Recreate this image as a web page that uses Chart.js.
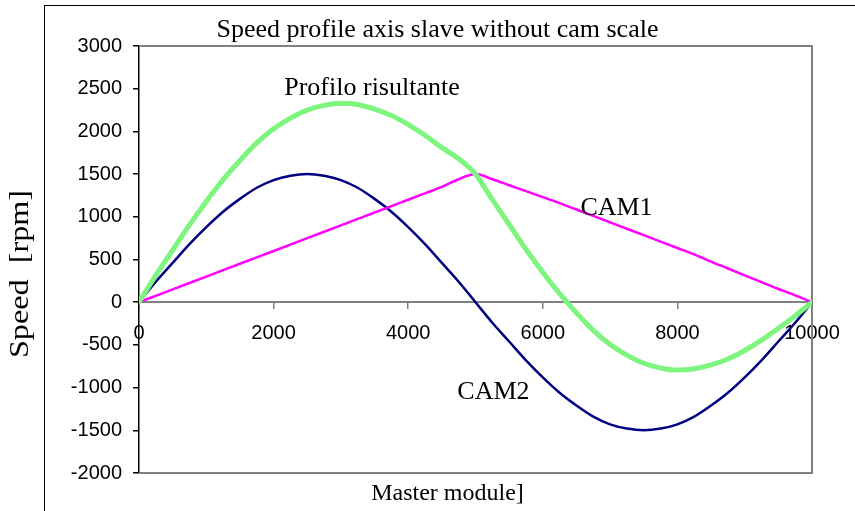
<!DOCTYPE html>
<html>
<head>
<meta charset="utf-8">
<script src="https://cdn.jsdelivr.net/npm/chart.js@4"></script>
<style>
  html, body { margin: 0; padding: 0; background: #fff; }
  #wrap { position: relative; width: 855px; height: 511px; overflow: hidden; }
  #frame { position: absolute; left: 44px; top: 5px; width: 900px; height: 600px;
           border-left: 1.5px solid #000; border-top: 1.5px solid #000; }
  canvas { position: absolute; left: 0; top: 0; }
</style>
</head>
<body>
<div id="wrap">
  <div id="frame"></div>
  <canvas id="c" width="855" height="511"></canvas>
</div>
<script>
// Master position samples
const master = [0,250,500,750,1000,1250,1500,1750,2000,2250,2500,2750,3000,3250,3500,3750,4000,4250,4500,4750,
                5000,5250,5500,5750,6000,6250,6500,6750,7000,7250,7500,7750,8000,8250,8500,8750,9000,9250,9500,9750,10000];

// CAM1 speed (rpm)
const cam1 = [0,75,150,225,300,375,450,525,600,675,750,825,900,975,1050,1125,1200,1275,1350,1440,
              1500,1440,1370,1300,1230,1160,1085,1010,935,860,785,710,635,560,475,395,315,235,155,80,0];

// CAM2 speed (rpm)
const cam2 = [0,240,460,680,880,1060,1210,1340,1430,1480,1500,1480,1430,1340,1210,1060,880,680,460,240,
              0,-240,-460,-680,-880,-1060,-1210,-1340,-1430,-1480,-1500,-1480,-1430,-1340,-1210,-1060,-880,-680,-460,-240,0];

// Resulting profile (rpm)
const risultante = [0,315,610,905,1180,1435,1660,1865,2030,2155,2250,2305,2330,2315,2260,2185,2080,1955,1810,1680,
                    1500,1200,910,620,350,100,-125,-330,-495,-620,-715,-770,-795,-780,-735,-665,-565,-445,-305,-160,0];

// Axis ranges and ticks
const yMin = -2000, yMax = 3000, yStep = 500;
const xMin = 0, xMax = 10000, xStep = 2000;

// Texts
const chartTitle = 'Speed profile axis slave without cam scale';
const yTitle = 'Speed  [rpm]';
const xTitle = 'Master module]';
const seriesLabels = [
  { text: 'Profilo risultante', x: 3462, y: 2426 },
  { text: 'CAM1', x: 7095, y: 1020 },
  { text: 'CAM2', x: 5267, y: -1137 }
];

const toPts = (ys) => master.map((m, i) => ({ x: m, y: ys[i] }));

const serif = '"Liberation Serif", "Times New Roman", serif';
const sans = '"Liberation Sans", Arial, sans-serif';

// Frame of the plot area, titles and in-plot series labels
const decor = {
  id: 'decor',
  beforeDatasetsDraw(chart) {
    const { ctx, chartArea: a } = chart;
    ctx.save();
    ctx.strokeStyle = '#808080';
    ctx.lineWidth = 2;
    ctx.beginPath();
    ctx.moveTo(a.left, a.top);
    ctx.lineTo(a.right, a.top);
    ctx.lineTo(a.right, a.bottom);
    ctx.lineTo(a.left, a.bottom);
    ctx.stroke();
    ctx.restore();
  },
  afterDatasetsDraw(chart) {
    const { ctx, scales } = chart;
    ctx.save();
    ctx.fillStyle = '#000';
    ctx.textAlign = 'center';
    ctx.textBaseline = 'alphabetic';

    ctx.font = '26px ' + serif;
    ctx.fillText(chartTitle, 437.5, 37);

    ctx.font = '24px ' + serif;
    ctx.fillText(xTitle, 447.5, 500);

    // vertical axis title, slightly widened along its reading direction
    ctx.save();
    ctx.translate(28, 274);
    ctx.rotate(-Math.PI / 2);
    ctx.scale(1.15, 1);
    ctx.font = '28px ' + serif;
    ctx.fillText(yTitle, 0, 0);
    ctx.restore();

    ctx.font = '26px ' + serif;
    seriesLabels.forEach(l => {
      ctx.fillText(l.text, scales.x.getPixelForValue(l.x), scales.y.getPixelForValue(l.y));
    });
    ctx.restore();
  }
};

new Chart(document.getElementById('c'), {
  type: 'line',
  data: {
    datasets: [
      { label: 'Profilo risultante', data: toPts(risultante), borderColor: '#7ef57e', borderWidth: 5, order: 0 },
      { label: 'CAM1', data: toPts(cam1), borderColor: '#ff00ff', borderWidth: 2.5, order: 1 },
      { label: 'CAM2', data: toPts(cam2), borderColor: '#000080', borderWidth: 2.5, order: 2 }
    ]
  },
  options: {
    responsive: false,
    animation: false,
    events: [],
    layout: { padding: { left: 0, top: 46, right: 43, bottom: 38 } },
    elements: {
      point: { radius: 0 },
      line: { tension: 0, cubicInterpolationMode: 'monotone', fill: false, borderCapStyle: 'round', borderJoinStyle: 'round' }
    },
    plugins: { legend: { display: false }, tooltip: { enabled: false }, title: { display: false } },
    scales: {
      x: {
        type: 'linear',
        position: { y: 0 },
        min: xMin, max: xMax,
        ticks: { stepSize: xStep, color: '#000', font: { family: sans, size: 20 }, padding: 13, maxRotation: 0,
                 callback: (v) => String(v) },
        grid: { drawOnChartArea: false, drawTicks: true, tickLength: 6, color: '#808080', lineWidth: 1.5 },
        border: { color: '#808080', width: 2 }
      },
      y: {
        type: 'linear',
        position: 'left',
        min: yMin, max: yMax,
        afterFit(scale) { scale.width = 139; },
        ticks: { stepSize: yStep, color: '#000', font: { family: sans, size: 20 }, padding: 11,
                 callback: (v) => String(v) },
        grid: { drawOnChartArea: false, drawTicks: true, tickLength: 6, color: '#000', lineWidth: 1.5 },
        border: { color: '#000', width: 1.5 }
      }
    }
  },
  plugins: [decor]
});
</script>
</body>
</html>
